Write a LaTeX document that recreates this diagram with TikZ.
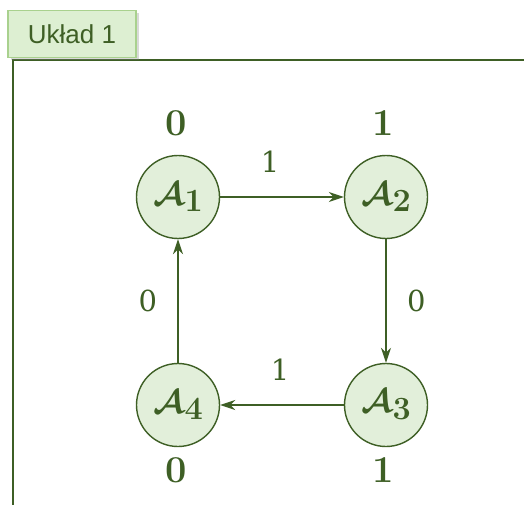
\documentclass[tikz,border=0pt]{standalone}
\usepackage{amsmath,bm}
\usepackage{fontspec}
\newfontfamily\tabfont{Liberation Sans}
\newfontfamily\numfont{DejaVu Serif}
\usetikzlibrary{shadows,arrows.meta}

\definecolor{dkgreen}{HTML}{3E5F25}
\definecolor{ltgreen}{HTML}{E2EFDA}
\definecolor{tabfill}{HTML}{DDEFD2}
\definecolor{tabedge}{HTML}{A9D18E}

% state name, math fonts stop at 24.88pt so scale it up
\newcommand\stname[1]{\scalebox{1.35}{$\bm{\mathcal{A}}$\kern0.5pt\raisebox{-5pt}{\fontsize{24}{24}\selectfont\bfseries #1}}}

\tikzset{
  state/.style={circle, draw=dkgreen, fill=ltgreen, line width=1.4pt,
    minimum size=83pt, inner sep=0pt, text=dkgreen, font=\fontsize{24}{24}\selectfont},
  bit/.style={text=dkgreen, font=\fontsize{38}{38}\selectfont\bfseries},
  elabel/.style={text=dkgreen, font=\numfont\fontsize{29}{29}\selectfont},
  arc/.style={draw=dkgreen, line width=1.4pt, -{Stealth[length=15pt,width=10pt]}}
}

\begin{document}
\begin{tikzpicture}[x=1pt,y=-1pt]
  \useasboundingbox (0,0) rectangle (524,505);
  % frame
  \draw[dkgreen, line width=2.4pt] (13,505) -- (13,60) -- (524,60);
  % tab
  \node (tab) at (72,34) [draw=tabedge, fill=tabfill, line width=1.5pt,
    minimum width=128pt, minimum height=47pt, drop shadow={opacity=0.3,shadow xshift=3pt,shadow yshift=-3pt},
    text=dkgreen, font=\tabfont\fontsize{26}{26}\selectfont] {Układ 1};
  % states
  \node (a1) at (178,197) [state] {\stname{1}};
  \node (a2) at (386,197) [state] {\stname{2}};
  \node (a3) at (386,405) [state] {\stname{3}};
  \node (a4) at (178,405) [state] {\stname{4}};
  % outputs
  \node (b1) at (176,123) [bit] {0};
  \node (b2) at (383,123) [bit] {1};
  \node (b3) at (383,470) [bit] {1};
  \node (b4) at (176,470) [bit] {0};
  % transitions
  \draw[arc] (a1) -- node[elabel, above=20pt, xshift=-12pt] {1} (a2);
  \draw[arc] (a2) -- node[elabel, right=17pt] {0} (a3);
  \draw[arc] (a3) -- node[elabel, above=20pt, xshift=-2pt] {1} (a4);
  \draw[arc] (a4) -- node[elabel, left=17pt] {0} (a1);
\end{tikzpicture}
\end{document}
